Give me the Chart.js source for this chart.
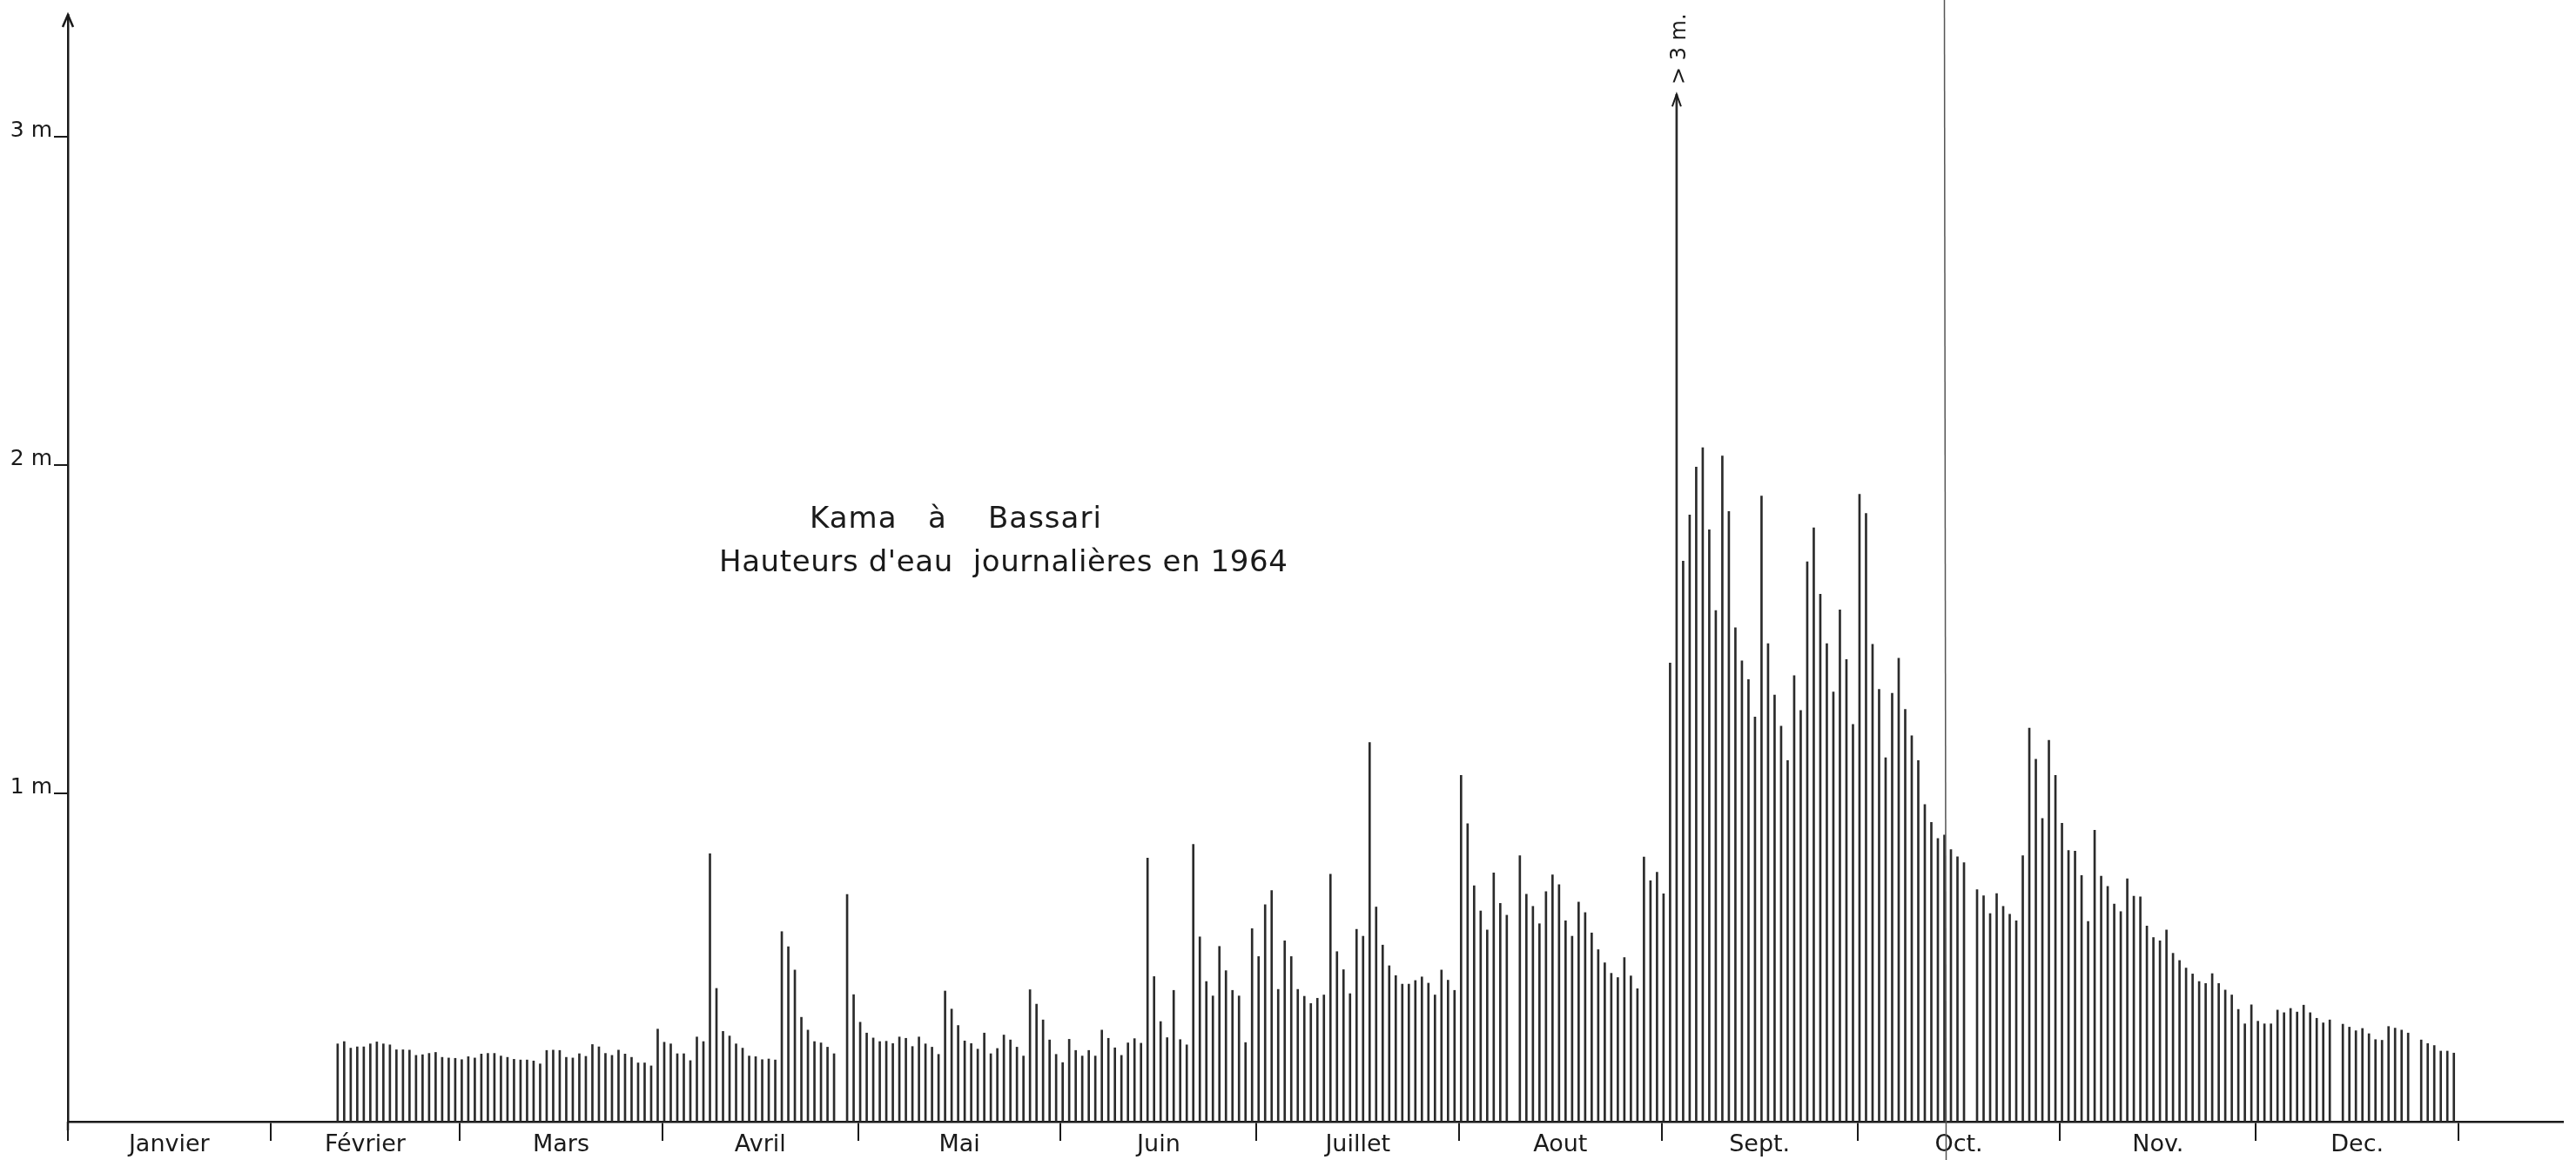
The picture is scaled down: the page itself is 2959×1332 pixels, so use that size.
<!DOCTYPE html>
<html>
<head>
<meta charset="utf-8">
<script src="https://cdn.jsdelivr.net/npm/chart.js@4.4.1/dist/chart.umd.min.js"></script>
<style>
  html, body { margin: 0; padding: 0; background: #ffffff; }
  #wrap { position: relative; width: 2959px; height: 1332px; overflow: hidden; background: #fff; }
  #c { position: absolute; left: 0; top: 0; }
  .t { position: absolute; font-family: "DejaVu Sans", sans-serif; color: #1a1a1a; white-space: pre; line-height: 1; }
  #t1 { left: 930px; top: 577px; font-size: 34px; letter-spacing: 1px; }
  #t2 { left: 826px; top: 627px; font-size: 34px; letter-spacing: 0.6px; }
</style>
</head>
<body>
<div id="wrap">
  <canvas id="c" width="2959" height="1332"></canvas>
  <div class="t" id="t1">Kama   à    Bassari</div>
  <div class="t" id="t2">Hauteurs d'eau  journalières en 1964</div>
</div>
<script>
// ---- Month axis ----
const monthNames = ['Janvier', 'Février', 'Mars', 'Avril', 'Mai', 'Juin', 'Juillet', 'Aout', 'Sept.', 'Oct.', 'Nov.', 'Dec.'];
const monthDays  = [31, 29, 31, 30, 31, 30, 31, 31, 30, 31, 30, 31];

// ---- Daily water heights (m), 1964, one entry per day of the month (null = no reading) ----
const jan = [];
const feb = [null, null, null, null, null, null, null, null, null, null,
  0.237, 0.244, 0.224, 0.228, 0.228, 0.237, 0.243, 0.237, 0.234, 0.219,
  0.219, 0.218, 0.202, 0.204, 0.208, 0.211, 0.196, 0.194, 0.193];
const mar = [0.189, 0.198, 0.194, 0.206, 0.208, 0.208, 0.200, 0.196, 0.190, 0.188,
  0.188, 0.185, 0.176, 0.217, 0.218, 0.217, 0.196, 0.194, 0.207, 0.199,
  0.235, 0.228, 0.208, 0.202, 0.218, 0.206, 0.196, 0.179, 0.179, 0.170, 0.282];
const apr = [0.242, 0.237, 0.207, 0.207, 0.186, 0.258, 0.244, 0.816, 0.406, 0.275,
  0.261, 0.237, 0.224, 0.200, 0.198, 0.189, 0.191, 0.188, 0.579, 0.533,
  0.462, 0.318, 0.279, 0.244, 0.240, 0.227, 0.207, null, 0.692, 0.387];
const may = [0.303, 0.270, 0.255, 0.244, 0.245, 0.238, 0.258, 0.254, 0.229, 0.258,
  0.237, 0.227, 0.205, 0.398, 0.343, 0.293, 0.246, 0.238, 0.221, 0.270,
  0.207, 0.223, 0.264, 0.249, 0.227, 0.200, 0.402, 0.358, 0.310, 0.249, 0.205];
const jun = [0.180, 0.251, 0.217, 0.200, 0.217, 0.200, 0.279, 0.254, 0.225, 0.202,
  0.240, 0.253, 0.239, 0.803, 0.442, 0.305, 0.256, 0.400, 0.250, 0.234,
  0.845, 0.563, 0.427, 0.383, 0.534, 0.460, 0.400, 0.383, 0.241, 0.588];
const jul = [0.503, 0.661, 0.704, 0.403, 0.551, 0.503, 0.403, 0.382, 0.360, 0.376,
  0.386, 0.754, 0.518, 0.463, 0.390, 0.586, 0.565, 1.155, 0.654, 0.538,
  0.475, 0.445, 0.419, 0.419, 0.430, 0.441, 0.422, 0.386, 0.462, 0.431, 0.400];
const aug = [1.055, 0.908, 0.719, 0.642, 0.584, 0.758, 0.665, 0.629, null, 0.810,
  0.693, 0.656, 0.603, 0.701, 0.752, 0.722, 0.612, 0.565, 0.669, 0.637,
  0.575, 0.524, 0.484, 0.452, 0.439, 0.500, 0.444, 0.405, 0.806, 0.734, 0.760];
const sep = [0.694, 1.397, 3.130, 1.708, 1.848, 1.994, 2.053, 1.803, 1.557, 2.028,
  1.859, 1.505, 1.404, 1.347, 1.233, 1.906, 1.456, 1.300, 1.205, 1.100,
  1.359, 1.253, 1.706, 1.809, 1.607, 1.456, 1.309, 1.559, 1.408, 1.210];
const oct = [1.911, 1.853, 1.454, 1.317, 1.109, 1.305, 1.412, 1.256, 1.176, 1.100,
  0.966, 0.912, 0.863, 0.873, 0.829, 0.807, 0.789, null, 0.707, 0.688,
  0.634, 0.695, 0.656, 0.632, 0.612, 0.810, 1.199, 1.104, 0.924, 1.162, 1.055];
const nov = [0.909, 0.826, 0.824, 0.750, 0.610, 0.888, 0.748, 0.717, 0.663, 0.640,
  0.740, 0.687, 0.685, 0.596, 0.561, 0.551, 0.584, 0.513, 0.491, 0.468,
  0.450, 0.427, 0.421, 0.451, 0.421, 0.401, 0.386, 0.342, 0.298, 0.356];
const dec = [0.306, 0.298, 0.298, 0.340, 0.332, 0.345, 0.334, 0.355, 0.332, 0.315,
  0.301, 0.310, null, 0.297, 0.288, 0.277, 0.284, 0.268, 0.250, 0.248,
  0.290, 0.285, 0.279, 0.270, null, 0.249, 0.238, 0.232, 0.215, 0.215, 0.209];

// ---- Y axis ticks ----
const yTickValues = [1, 2, 3];
const yTickLabels = ['1 m', '2 m', '3 m'];

// ---- annotations ----
const overflowLabel = '> 3 m.';
const overflowThreshold = 3;
const foldLineDay = 287.3;   // vertical line crossing the sheet (mid-October)

// ---- build data for the library ----
const monthly = [jan, feb, mar, apr, may, jun, jul, aug, sep, oct, nov, dec];
const BAR_SHIFT = 0.3;
const points = [];
let dayStart = 0;
monthly.forEach((vals, m) => {
  vals.forEach((v, d) => {
    if (v !== null && v !== undefined) points.push({ x: dayStart + d + BAR_SHIFT, y: v });
  });
  dayStart += monthDays[m];
});
const xTickValues = [];
let acc = 0;
for (let m = 0; m < 12; m++) {
  xTickValues.push(acc);
  xTickValues.push(acc + monthDays[m] / 2);
  acc += monthDays[m];
}
xTickValues.push(acc);

const INK = '#1a1a1a';
const BAR_INK = '#2b2b2b';

const decor = {
  id: 'decor',
  afterDraw(chart) {
    const ctx = chart.ctx;
    const area = chart.chartArea;
    const xs = chart.scales.x;
    ctx.save();
    // fold line
    const fx = xs.getPixelForValue(foldLineDay);
    ctx.strokeStyle = '#555';
    ctx.lineWidth = 1.5;
    ctx.beginPath();
    ctx.moveTo(fx, 0);
    ctx.lineTo(fx + 2, chart.height);
    ctx.stroke();
    // y-axis arrowhead and small extension under the x axis
    ctx.strokeStyle = INK;
    ctx.lineWidth = 2.5;
    ctx.beginPath();
    ctx.moveTo(area.left - 6, area.top + 14);
    ctx.lineTo(area.left, area.top);
    ctx.lineTo(area.left + 6, area.top + 14);
    ctx.stroke();
    ctx.beginPath();
    ctx.moveTo(area.left, area.bottom);
    ctx.lineTo(area.left, area.bottom + 10);
    ctx.stroke();
    // overflow bar arrow + label
    const meta = chart.getDatasetMeta(0);
    points.forEach((p, i) => {
      if (p.y > overflowThreshold) {
        const el = meta.data[i];
        ctx.lineWidth = 2;
        ctx.beginPath();
        ctx.moveTo(el.x - 5, el.y + 14);
        ctx.lineTo(el.x, el.y);
        ctx.lineTo(el.x + 5, el.y + 14);
        ctx.stroke();
        ctx.save();
        ctx.translate(el.x + 4, el.y - 52);
        ctx.rotate(-Math.PI / 2);
        ctx.fillStyle = INK;
        ctx.font = '24px "DejaVu Sans"';
        ctx.textAlign = 'center';
        ctx.textBaseline = 'middle';
        ctx.fillText(overflowLabel, 0, 0);
        ctx.restore();
      }
    });
    ctx.restore();
  }
};

new Chart(document.getElementById('c').getContext('2d'), {
  type: 'bar',
  data: {
    datasets: [{
      data: points,
      backgroundColor: BAR_INK,
      borderWidth: 0,
      barThickness: 2
    }]
  },
  options: {
    responsive: false,
    animation: false,
    devicePixelRatio: 1,
    layout: { padding: { left: 0, right: 15, top: 10, bottom: 0 } },
    plugins: { legend: { display: false }, tooltip: { enabled: false }, title: { display: false } },
    scales: {
      x: {
        type: 'linear',
        min: 0,
        max: 382,
        offset: false,
        grid: {
          offset: false,
          drawOnChartArea: false,
          drawTicks: true,
          tickLength: 22,
          lineWidth: 2,
          color: (c) => (c.index % 2 === 0 ? INK : 'rgba(0,0,0,0)')
        },
        border: { display: true, color: INK, width: 2.5 },
        ticks: {
          autoSkip: false,
          maxRotation: 0,
          minRotation: 0,
          padding: -11,
          color: INK,
          font: { family: 'DejaVu Sans', size: 27 },
          callback: (v, i) => (i % 2 === 1 ? monthNames[(i - 1) / 2] : '')
        },
        afterBuildTicks: (s) => { s.ticks = xTickValues.map(v => ({ value: v })); },
        afterFit: (s) => { s.height = 44; }
      },
      y: {
        min: 0,
        max: 3.372,
        grid: { drawOnChartArea: false, tickLength: 16, lineWidth: 2, color: INK },
        border: { display: true, color: INK, width: 2.5 },
        ticks: {
          color: INK,
          padding: 2,
          labelOffset: -7,
          font: { family: 'DejaVu Sans', size: 25 },
          callback: (v, i) => yTickLabels[i]
        },
        afterBuildTicks: (s) => { s.ticks = yTickValues.map(v => ({ value: v })); },
        afterFit: (s) => { s.width = 78; }
      }
    }
  },
  plugins: [decor]
});
</script>
</body>
</html>
